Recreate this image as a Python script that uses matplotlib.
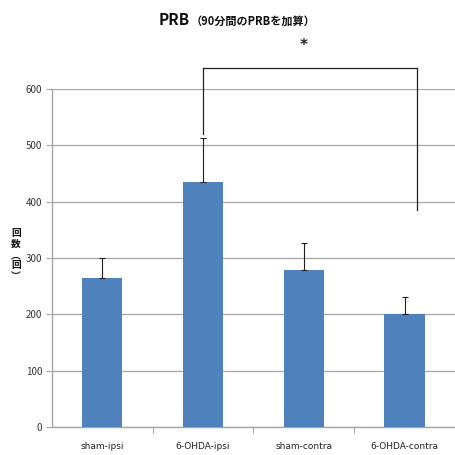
import matplotlib
matplotlib.use("Agg")
import matplotlib.pyplot as plt

plt.rcParams["font.family"] = ["Noto Sans CJK JP", "DejaVu Sans"]

groups = ["sham-ipsi", "6-OHDA-ipsi", "sham-contra", "6-OHDA-contra"]
counts = [265, 435, 279, 200]
errors = [35, 78, 48, 31]
yticks = [0, 100, 200, 300, 400, 500, 600]

BAR = "#4f81bd"
GRID = "#a6a6a6"

fig = plt.figure(figsize=(4.55, 4.55), dpi=100)
fig.patch.set_facecolor("white")
ax = fig.add_axes([0.114, 0.0615, 0.886, 0.7425])

x = list(range(len(groups)))
ax.bar(x, counts, width=0.4, color=BAR, zorder=3)
ax.errorbar(x, counts, yerr=[[0] * len(errors), errors], fmt="none",
            ecolor="#1f1f1f", elinewidth=0.8, capsize=2.5, capthick=0.8, zorder=4)

ax.set_xlim(-0.5, len(groups) - 0.5)
ax.set_ylim(0, 600)
ax.set_yticks(yticks)
ax.set_yticklabels([str(v) for v in yticks], fontsize=7, color="#333333")
ax.grid(axis="y", color=GRID, linewidth=0.9, zorder=0)
ax.set_axisbelow(True)
for s in ("top", "right"):
    ax.spines[s].set_visible(False)
for s in ("left", "bottom"):
    ax.spines[s].set_color(GRID)
    ax.spines[s].set_linewidth(1.0)
ax.tick_params(axis="y", length=4, color=GRID, pad=3)

# category labels with ticks between categories
ax.set_xticks([i + 0.5 for i in range(len(groups) - 1)])
ax.set_xticklabels([])
ax.tick_params(axis="x", length=4, color=GRID)
for i, g in enumerate(groups):
    ax.text(i, -0.045, g, transform=ax.get_xaxis_transform(), ha="center", va="top",
            fontsize=6.5, color="#222222", family="DejaVu Sans")

# significance bracket
kw = dict(color="#222222", lw=0.9, clip_on=False)
ax.plot([1, 1], [520, 637], **kw)
ax.plot([1, 3.12], [637, 637], **kw)
ax.plot([3.12, 3.12], [637, 385], **kw)
ax.text(2, 678, "*", ha="center", va="center", fontsize=11, color="#222222",
        family="DejaVu Sans", fontweight="bold", clip_on=False)

# title
fig.text(0.418, 0.955, "PRB", ha="right", va="center", fontsize=11, fontweight="bold",
         color="#111111")
fig.text(0.418, 0.953, "（90分間のPRBを加算）", ha="left", va="center", fontsize=8,
         fontweight="bold", color="#111111")

# y label "回数(回)", stacked vertically one glyph per line
ylab = ["回", "数", "︵", "回", "︶"]
for k, ch in enumerate(ylab):
    fig.text(0.035, 0.487 - k * 0.0235, ch, ha="center", va="center", fontsize=7,
             fontweight="bold", color="#111111")

fig.savefig("out.png", dpi=100, facecolor="white")
